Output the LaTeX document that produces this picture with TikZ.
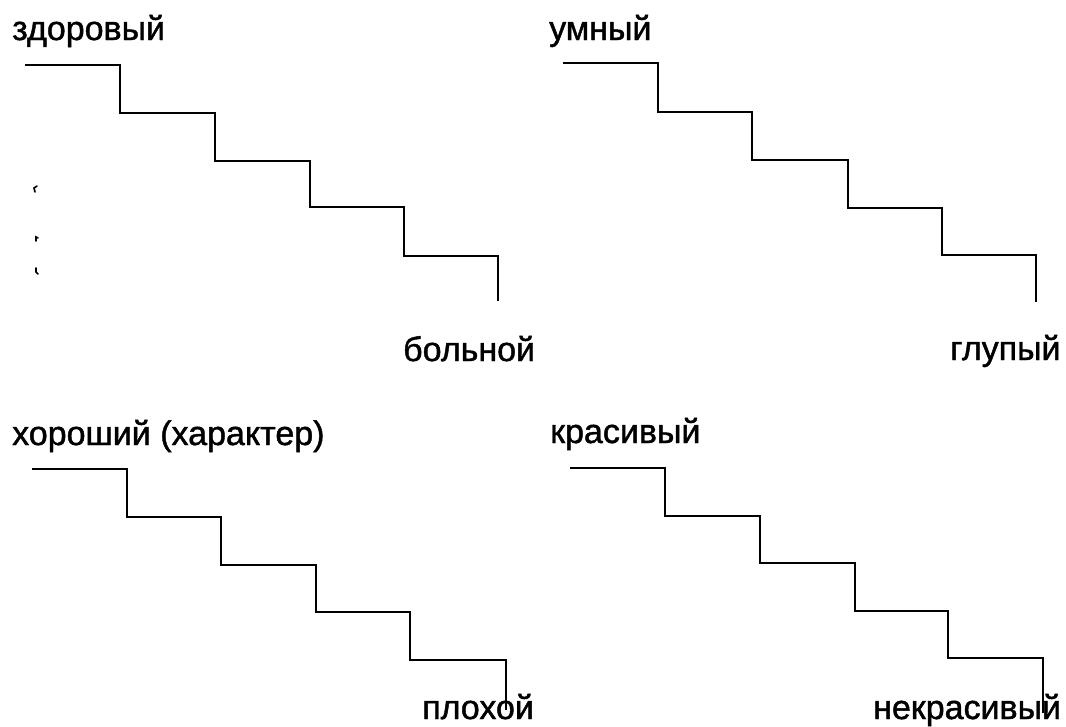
\documentclass[tikz,border=0pt]{standalone}
\usepackage{fontspec}
\setmainfont{Liberation Sans}
\usepackage{tikz}
\usetikzlibrary{positioning}

\begin{document}
\begin{tikzpicture}[x=1pt,y=-1pt]
    \tikzstyle{word} = [inner sep=0pt, anchor=base west, font=\fontsize{34}{40}\selectfont\addfontfeature{FakeBold=1.3}]
    \tikzstyle{stair} = [line width=2.7pt, line join=miter]
    \tikzstyle{speck} = [line width=1.6pt, line cap=round]
        \useasboundingbox (0,0) rectangle (1066,726);
        \node (zdor) [word] at (12,40) {здоровый};
        \node (boln) [word] at (403,361) {больной};
        \node (umn) [word] at (549,40) {умный};
        \node (glup) [word] at (950,360) {глупый};
        \node (khor) [word] at (12,445) {хороший (характер)};
        \node (plokh) [word] at (422,719) {плохой};
        \node (kras) [word] at (550,443) {красивый};
        \node (nekras) [word] at (873,719) {некрасивый};
        \draw[stair] (25,65) -| (120,113) -| (215,161) -| (310,207) -| (404,256) -| (498,301);
        \draw[stair] (563,63) -| (658,112) -| (752,160) -| (848,208) -| (942,255) -| (1036,302);
        \draw[stair] (32,469) -| (127,517) -| (221,565) -| (316,612) -| (410,660) -| (506,710);
        \draw[stair] (570,468) -| (665,516) -| (760,563) -| (855,611) -| (948,658) -| (1043,713);
        \draw[speck] (35,192) -- (34,188) -- (37,186);
        \draw[speck] (36,241) -- (36,237) -- (38,238);
        \draw[speck] (36,268) -- (36,272) -- (38,274);
    \end{tikzpicture}
\end{document}
